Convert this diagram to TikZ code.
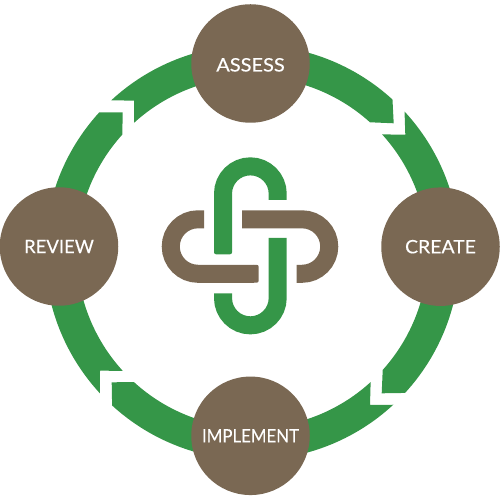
\documentclass[tikz,border=0pt]{standalone}
\usepackage{fontspec}
\setmainfont{Lato}[FakeBold=0.25]
\definecolor{ringgreen}{HTML}{359648}
\definecolor{nodebrown}{HTML}{7A6853}
\tikzset{
  stage/.style={circle,fill=nodebrown,text=white,inner sep=0pt,minimum size=118.5pt,font=\fontsize{18.5}{20}\selectfont},
  greenband/.style={draw=ringgreen,line width=18pt},
  brownband/.style={draw=nodebrown,line width=18pt},
}
\newcommand{\ringseg}[5]{% far angle, outer end, inner end, x, y of the middle corner
  \fill[ringgreen] (#1:207.5) arc (#1:#2:207.5) -- (#4,#5) -- (#3:175.5) arc (#3:#1:175.5) -- cycle;
}

\begin{document}
\begin{tikzpicture}[x=1pt,y=1pt]
  \useasboundingbox (0,0) rectangle (500,500);
  % ring
  \begin{scope}[shift={(252.3,247.5)}]
    \ringseg{90}{47.5}{47.9}{141.4}{129.2}
    \ringseg{0}{42.8}{42.3}{153}{117.8}
    \ringseg{0}{-42.6}{-42}{129.4}{-140.8}
    \ringseg{-90}{-47.2}{-47.6}{117.7}{-152.5}
    \ringseg{270}{227.5}{227.6}{-140.6}{-129.8}
    \ringseg{180}{222.75}{222.4}{-152.3}{-118.2}
    \ringseg{180}{137.5}{137.8}{-129.6}{140.2}
    \ringseg{90}{132.8}{132.3}{-118.3}{151.8}
  \end{scope}
  % stages
  \node[stage,text height=16pt,text depth=0pt] (assess) at (250.5,436.5) {\scalebox{1.08}[1]{ASSESS}};
  \node[stage] (create) at (440.5,253.3) {\scalebox{1.05}[1]{CREATE}};
  \node[stage] (implement) at (250.5,64.2) {\scalebox{.91}[1]{IMPLEMENT}};
  \node[stage] (review) at (59,253.5) {REVIEW};
  % logo
  \draw[greenband] (277.7,300) -- (277.7,306.3) arc (0:180:27.35) -- (223,250);
  \fill[ringgreen,rounded corners=2pt] (214,245.7) rectangle (232,252);
  \draw[greenband] (277.7,262) -- (277.7,202) arc (0:-180:27.35) -- (223,206.7);
  \draw[brownband] (204,280.7) -- (198,280.7) arc (90:270:27.25) -- (254,226.2);
  \fill[nodebrown,rounded corners=2pt] (252,217.3) rectangle (258.7,235.2);
  \draw[brownband] (242,280.7) -- (302,280.7) arc (90:-90:27.25) -- (296.7,226.2);
\end{tikzpicture}
\end{document}
